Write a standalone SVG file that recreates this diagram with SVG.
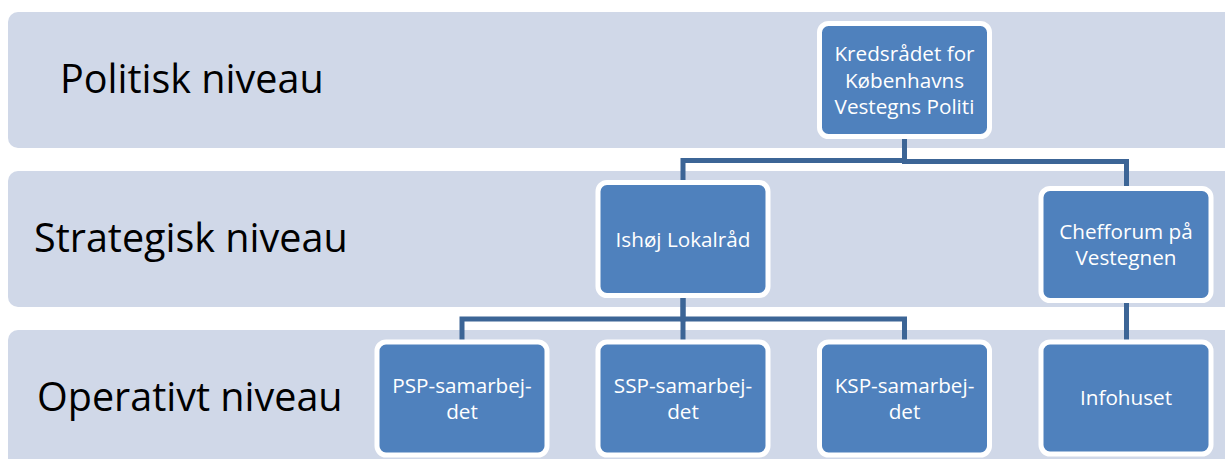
<svg xmlns="http://www.w3.org/2000/svg" width="1225" height="459" viewBox="0 0 1225 459">
<style>
.band{fill:#D0D8E8}
.lvl{font-family:"Open Sans","Noto Sans",sans-serif;font-size:39.5px;fill:#000}
.box{fill:#4F81BD;stroke:#FFFFFF;stroke-width:5}
.bt{font-family:"Open Sans","Noto Sans",sans-serif;font-size:20.7px;fill:#FFFFFF;text-anchor:middle}
.conn{fill:none;stroke:#3C6596;stroke-width:5}
</style>
<rect width="1225" height="459" fill="#FFFFFF"/>
<g id="bands">
<rect class="band" x="8" y="12" width="1240" height="136" rx="10"/>
<rect class="band" x="8" y="171" width="1240" height="136" rx="10"/>
<rect class="band" x="8" y="330" width="1240" height="150" rx="10"/>
<text class="lvl" x="60" y="93">Politisk niveau</text>
<text class="lvl" x="34" y="252">Strategisk niveau</text>
<text class="lvl" x="37" y="411">Operativt niveau</text>
</g>
<g id="connectors">
<path class="conn" d="M904.5,137 V160.5 H683 V183"/>
<path class="conn" d="M904.5,137 V161.5 H1126.5 V189"/>
<path class="conn" d="M683,295 V319 H462 V342"/>
<path class="conn" d="M683,295 V319 H904.5 V342"/>
<path class="conn" d="M683,319 V342"/>
<path class="conn" d="M1126.5,300 V342"/>
</g>
<g id="kredsraadet">
<rect class="box" x="819.5" y="23.5" width="170" height="113" rx="9"/>
<text class="bt" x="904.5" y="61">Kredsrådet for</text>
<text class="bt" x="904.5" y="87.5">Københavns</text>
<text class="bt" x="904.5" y="114">Vestegns Politi</text>
</g>
<g id="ishoej">
<rect class="box" x="598" y="182.5" width="170" height="113" rx="9"/>
<text class="bt" x="683" y="247">Ishøj Lokalråd</text>
</g>
<g id="chefforum">
<rect class="box" x="1041" y="188.5" width="170" height="112" rx="9"/>
<text class="bt" x="1126" y="239">Chefforum på</text>
<text class="bt" x="1126" y="265">Vestegnen</text>
</g>
<g id="psp">
<rect class="box" x="377" y="342" width="170" height="113" rx="9"/>
<text class="bt" x="462" y="392.5">PSP-samarbej-</text>
<text class="bt" x="462" y="418.5">det</text>
</g>
<g id="ssp">
<rect class="box" x="598" y="342" width="170" height="113" rx="9"/>
<text class="bt" x="683" y="392.5">SSP-samarbej-</text>
<text class="bt" x="683" y="418.5">det</text>
</g>
<g id="ksp">
<rect class="box" x="819.5" y="342" width="170" height="113" rx="9"/>
<text class="bt" x="904.5" y="392.5">KSP-samarbej-</text>
<text class="bt" x="904.5" y="418.5">det</text>
</g>
<g id="infohuset">
<rect class="box" x="1041" y="342" width="170" height="112" rx="9"/>
<text class="bt" x="1126" y="405">Infohuset</text>
</g>
</svg>
